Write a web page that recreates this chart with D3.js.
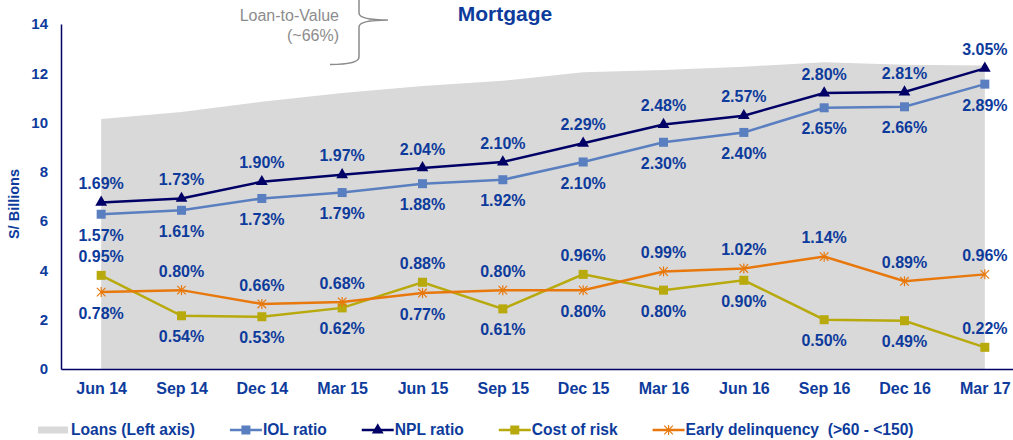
<!DOCTYPE html>
<html lang="en">
<head>
    <meta charset="UTF-8">
    <title>Mortgage</title>
    <style>
        body {
            margin: 0;
            padding: 0;
            background-color: #ffffff;
        }
        svg {
            display: block;
            font-family: "Liberation Sans", Arial, sans-serif;
        }
    </style>
    <script src="https://d3js.org/d3.v7.min.js"></script>
</head>
<body>
    <script>
        // data
        const quarters = ["Jun 14", "Sep 14", "Dec 14", "Mar 15", "Jun 15", "Sep 15",
                          "Dec 15", "Mar 16", "Jun 16", "Sep 16", "Dec 16", "Mar 17"];
        const loans = [10.15, 10.43, 10.84, 11.2, 11.48, 11.7, 12.04, 12.13, 12.27, 12.45, 12.35, 12.32];
        const iolRatio = [1.57, 1.61, 1.73, 1.79, 1.88, 1.92, 2.10, 2.30, 2.40, 2.65, 2.66, 2.89];
        const nplRatio = [1.69, 1.73, 1.90, 1.97, 2.04, 2.10, 2.29, 2.48, 2.57, 2.80, 2.81, 3.05];
        const costOfRisk = [0.95, 0.54, 0.53, 0.62, 0.88, 0.61, 0.96, 0.80, 0.90, 0.50, 0.49, 0.22];
        const earlyDelinq = [0.78, 0.80, 0.66, 0.68, 0.77, 0.80, 0.80, 0.99, 1.02, 1.14, 0.89, 0.96];
        const leftTicks = [0, 2, 4, 6, 8, 10, 12, 14];

        const width = 1013;
        const height = 440;
        const blue = "#0d3b9c";
        const navy = "#000066";

        const svg = d3.select("body").append("svg")
            .attr("width", width)
            .attr("height", height);

        const x = d3.scalePoint()
            .domain(quarters)
            .range([61, 1025])
            .padding(0.5);

        const y = d3.scaleLinear()
            .domain([0, 14])
            .range([369, 24]);

        // ratios live on a hidden right axis, 0 - 3.5%
        const yr = d3.scaleLinear()
            .domain([0, 3.5])
            .range([369, 24]);

        // loans area
        const area = d3.area()
            .x((d, i) => x(quarters[i]))
            .y0(y(0))
            .y1(d => y(d));

        svg.append("path")
            .datum(loans)
            .attr("d", area)
            .attr("fill", "#d9d9d9");

        // axes
        const yAxis = svg.append("g")
            .attr("transform", "translate(61,0)")
            .call(d3.axisLeft(y).tickValues(leftTicks).tickSize(0).tickPadding(13));
        yAxis.select(".domain").attr("stroke", navy).attr("stroke-width", 1.5);
        yAxis.selectAll("text")
            .attr("fill", blue)
            .attr("font-size", 15)
            .attr("font-weight", "bold")
            .attr("font-family", "Liberation Sans, Arial, sans-serif");

        const xAxis = svg.append("g")
            .attr("transform", "translate(0,369)")
            .call(d3.axisBottom(x).tickSize(0).tickPadding(14));
        xAxis.select(".domain").attr("stroke", navy).attr("stroke-width", 1.5);
        xAxis.selectAll("text")
            .attr("fill", blue)
            .attr("font-size", 16)
            .attr("font-weight", "bold")
            .attr("font-family", "Liberation Sans, Arial, sans-serif");

        svg.append("text")
            .attr("transform", "translate(19,204) rotate(-90)")
            .attr("text-anchor", "middle")
            .attr("fill", blue)
            .attr("font-size", 14.5)
            .attr("font-weight", "bold")
            .text("S/ Billions");

        // title
        svg.append("text")
            .attr("x", 505)
            .attr("y", 21)
            .attr("text-anchor", "middle")
            .attr("fill", blue)
            .attr("font-size", 21)
            .attr("font-weight", "bold")
            .text("Mortgage");

        // loan-to-value note with brace
        svg.append("text")
            .attr("x", 339)
            .attr("y", 21)
            .attr("text-anchor", "end")
            .attr("fill", "#8c8c8c")
            .attr("font-size", 16)
            .text("Loan-to-Value");
        svg.append("text")
            .attr("x", 339)
            .attr("y", 41)
            .attr("text-anchor", "end")
            .attr("fill", "#8c8c8c")
            .attr("font-size", 16)
            .text("(~66%)");
        svg.append("path")
            .attr("d", "M330,64.5 Q359,64.5 359,57 L359,27 Q359,20 388,20 Q359,20 359,13 L359,-10")
            .attr("fill", "none")
            .attr("stroke", "#8c8c8c")
            .attr("stroke-width", 1.5);

        const series = [
            { name: "IOL ratio", values: iolRatio, color: "#5a7fc0", marker: "square" },
            { name: "NPL ratio", values: nplRatio, color: navy, marker: "triangle" },
            { name: "Cost of risk", values: costOfRisk, color: "#b8a90c", marker: "square" },
            { name: "Early delinquency  (>60 - <150)", values: earlyDelinq, color: "#e8780c", marker: "asterisk" }
        ];

        const line = d3.line()
            .x((d, i) => x(quarters[i]))
            .y(d => yr(d));

        function drawMarker(g, type, color, cx, cy) {
            if (type === "square") {
                g.append("rect")
                    .attr("x", cx - 4.5).attr("y", cy - 4.5)
                    .attr("width", 9).attr("height", 9)
                    .attr("fill", color);
            } else if (type === "triangle") {
                g.append("path")
                    .attr("d", d3.symbol(d3.symbolTriangle, 60)())
                    .attr("transform", `translate(${cx},${cy})`)
                    .attr("fill", color);
            } else {
                g.append("path")
                    .attr("d", d3.symbol(d3.symbolTimes, 50)())
                    .attr("transform", `translate(${cx},${cy})`)
                    .attr("fill", "none")
                    .attr("stroke", color)
                    .attr("stroke-width", 1.2);
                g.append("line")
                    .attr("x1", cx).attr("x2", cx)
                    .attr("y1", cy - 5).attr("y2", cy + 5)
                    .attr("stroke", color)
                    .attr("stroke-width", 1.2);
            }
        }

        series.forEach(s => {
            const g = svg.append("g");
            g.append("path")
                .datum(s.values)
                .attr("d", line)
                .attr("fill", "none")
                .attr("stroke", s.color)
                .attr("stroke-width", 2.5);
            s.values.forEach((v, i) => drawMarker(g, s.marker, s.color, x(quarters[i]), yr(v)));
        });

        // data labels
        function label(v, i, above) {
            svg.append("text")
                .attr("x", x(quarters[i]))
                .attr("y", yr(v) + (above ? -19 : 21))
                .attr("dy", "0.35em")
                .attr("text-anchor", "middle")
                .attr("fill", blue)
                .attr("font-size", 16)
                .attr("font-weight", "bold")
                .text(v.toFixed(2) + "%");
        }

        nplRatio.forEach((v, i) => label(v, i, true));
        iolRatio.forEach((v, i) => label(v, i, false));
        quarters.forEach((q, i) => {
            const c = costOfRisk[i], e = earlyDelinq[i];
            label(c, i, c > e || c < 0.3);
            label(e, i, e >= c);
        });

        // legend
        const legend = svg.append("g").attr("transform", "translate(38,430)");
        const items = [{ name: "Loans (Left axis)", marker: "area" }].concat(series);
        let lx = 0;
        items.forEach(it => {
            if (it.marker === "area") {
                legend.append("rect")
                    .attr("x", lx).attr("y", -3.5)
                    .attr("width", 30).attr("height", 7)
                    .attr("fill", "#d9d9d9");
            } else {
                legend.append("line")
                    .attr("x1", lx).attr("x2", lx + 32)
                    .attr("y1", 0).attr("y2", 0)
                    .attr("stroke", it.color)
                    .attr("stroke-width", 2.5);
                drawMarker(legend, it.marker, it.color, lx + 16, 0);
            }
            const t = legend.append("text")
                .attr("x", lx + 33)
                .attr("y", 0)
                .attr("dy", "0.35em")
                .attr("fill", blue)
                .attr("font-size", 15.6)
                .attr("font-weight", "bold")
                .attr("xml:space", "preserve")
                .style("white-space", "pre")
                .text(it.name);
            lx += 33 + t.node().getComputedTextLength() + 35;
        });
    </script>
</body>
</html>
